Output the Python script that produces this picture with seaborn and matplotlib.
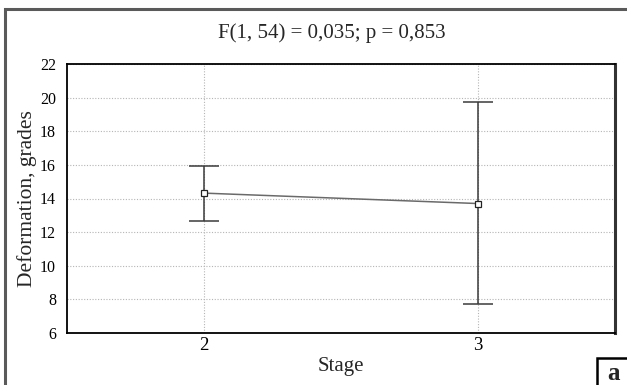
import matplotlib
matplotlib.use("Agg")
import matplotlib.pyplot as plt
import matplotlib.patches as patches
import seaborn as sns
import pandas as pd

# Data
stages = [2, 3]
stage_labels = ["2", "3"]
means = [14.32, 13.70]
upper = [15.95, 19.75]
lower = [12.65, 7.75]
y_ticks = [6, 8, 10, 12, 14, 16, 18, 20, 22]
title_text = "F(1, 54) = 0,035; p = 0,853"

df = pd.DataFrame({"Stage": stages, "Mean": means})

sns.set_style("white")
plt.rcParams["font.family"] = ["Liberation Serif", "DejaVu Serif"]

fig = plt.figure(figsize=(6.27, 3.85), dpi=100)
ax = fig.add_axes([67 / 627, 1 - 333 / 385, (615 - 67) / 627, (333 - 64) / 385])

# error bars
yerr = [[m - l for m, l in zip(means, lower)], [u - m for m, u in zip(means, upper)]]
ax.errorbar(stages, means, yerr=yerr, fmt="none", ecolor="#3a3a3a", elinewidth=1.1,
            capsize=10.8, capthick=1.1, zorder=3)

sns.lineplot(data=df, x="Stage", y="Mean", ax=ax, color="#6a6a6a", linewidth=1.1,
             marker="s", markersize=4, markerfacecolor="white",
             markeredgecolor="#222222", markeredgewidth=0.9, zorder=4)

ax.set_xlim(1.5, 3.5)
ax.set_ylim(6, 22)
ax.set_xticks(stages)
ax.set_xticklabels(stage_labels, fontsize=13.5)
ax.set_yticks(y_ticks)
ax.set_yticklabels([str(t) for t in y_ticks], fontsize=11.5)
ax.tick_params(axis="both", direction="in", length=2, width=0.8, colors="black")
ax.tick_params(axis="y", pad=8)
ax.tick_params(axis="x", pad=3)

ax.grid(True, linestyle=(0, (1, 1.5)), color="#b5b5b5", linewidth=0.8)
ax.set_axisbelow(True)

ax.set_xlabel("Stage", fontsize=15, labelpad=2)
ax.set_ylabel("Deformation, grades", fontsize=15.5, labelpad=2)

for s in ["left", "bottom", "top"]:
    ax.spines[s].set_color("black")
    ax.spines[s].set_linewidth(1.3)
    ax.spines[s].set_visible(True)
ax.spines["right"].set_visible(True)
ax.spines["right"].set_color("#333333")
ax.spines["right"].set_linewidth(2.2)

fig.text(332 / 627, 1 - 38 / 385, title_text, ha="center", va="baseline", fontsize=15)

# outer frame
frame = patches.Rectangle((5 / 627, -0.1), 1.2, 0.1 + (1 - 9 / 385), transform=fig.transFigure,
                          fill=False, edgecolor="#5a5a5a", linewidth=2.2, clip_on=False)
fig.patches.append(frame)

# panel label box
box = patches.Rectangle((597 / 627, -0.1), 0.2, 0.1 + 27 / 385, transform=fig.transFigure,
                        fill=True, facecolor="white", edgecolor="black", linewidth=1.8, clip_on=False)
fig.patches.append(box)
fig.text(614 / 627, 1 - 379.5 / 385, "a", ha="center", va="baseline", fontsize=18,
         fontweight="bold")

fig.savefig("out.png", dpi=100)
